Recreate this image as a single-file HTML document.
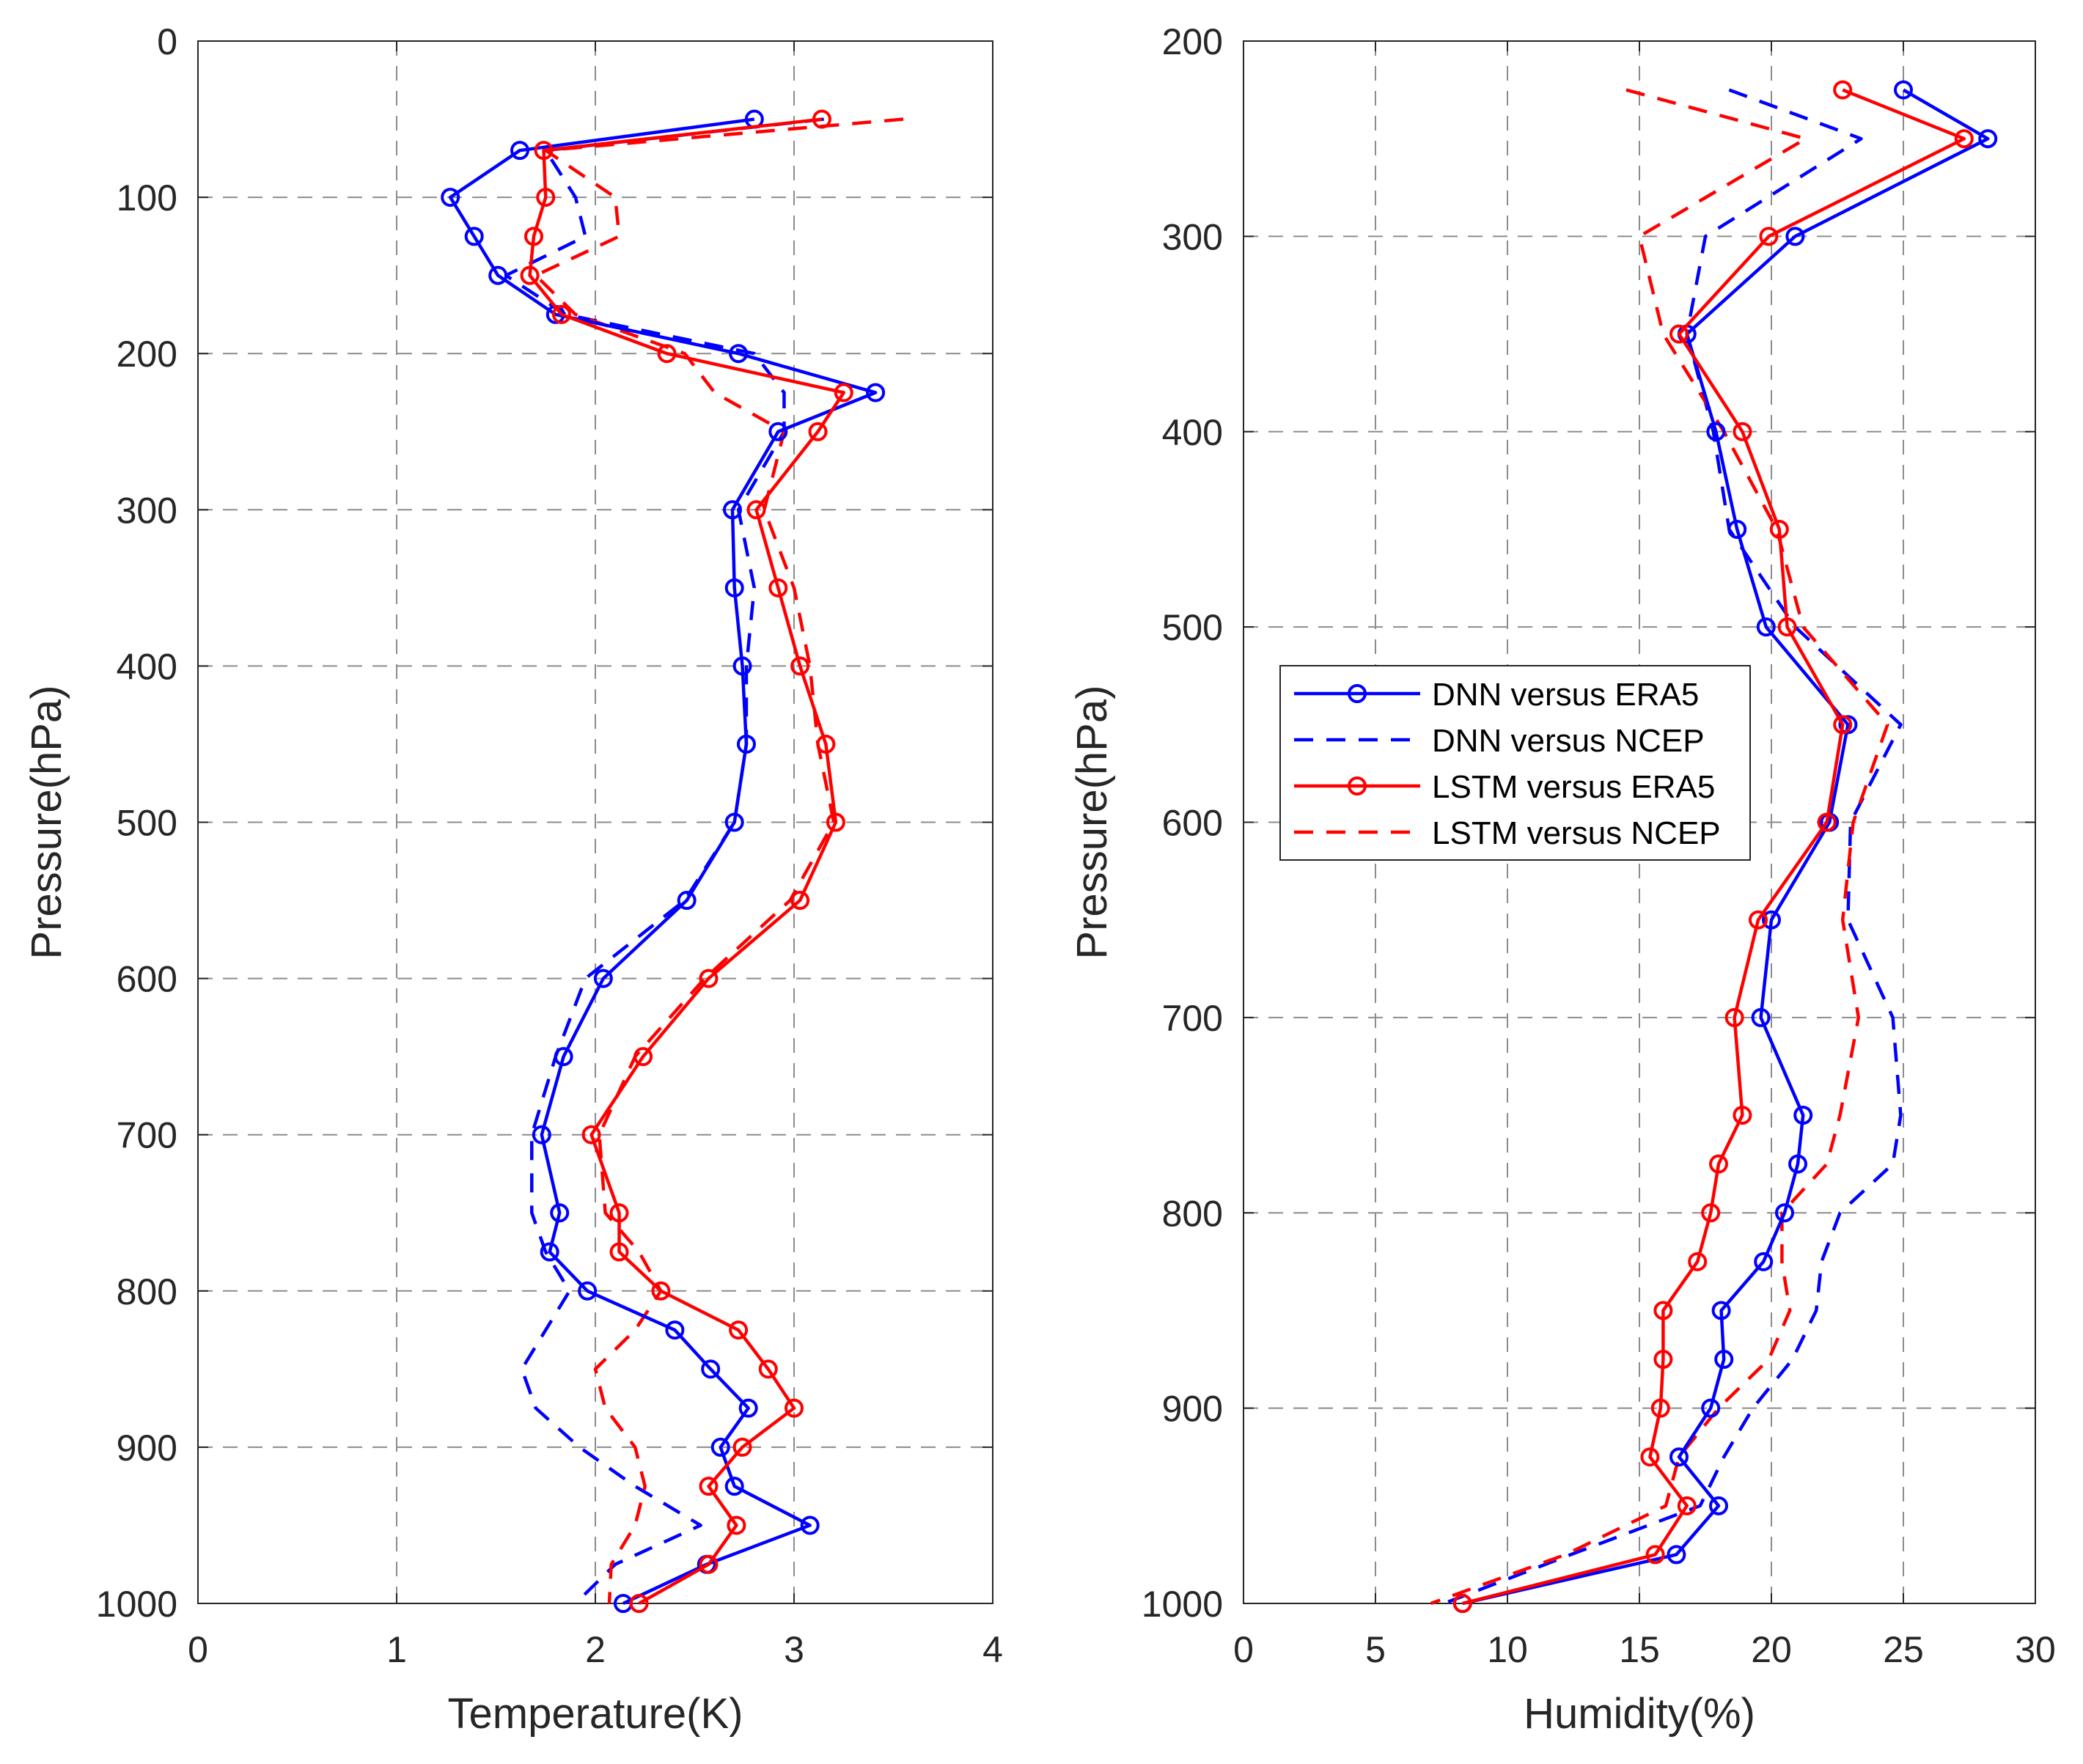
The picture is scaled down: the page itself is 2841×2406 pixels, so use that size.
<!DOCTYPE html>
<html><head><meta charset="utf-8"><style>
html,body{margin:0;padding:0;background:#fff;}
svg{display:block;font-family:"Liberation Sans",Arial,sans-serif;}
</style></head><body>
<svg id="chart" width="2841" height="2406" viewBox="0 0 2841 2406" xmlns="http://www.w3.org/2000/svg"></svg>
<script>
// ---------- Temperature panel data ----------
const tLevels = [50,70,100,125,150,175,200,225,250,300,350,400,450,500,550,600,650,700,750,775,800,825,850,875,900,925,950,975,1000];
const tDnnEra5 = [2.8,1.62,1.27,1.39,1.51,1.8,2.72,3.41,2.92,2.69,2.7,2.74,2.76,2.7,2.46,2.04,1.84,1.73,1.82,1.77,1.96,2.4,2.58,2.77,2.63,2.7,3.08,2.56,2.14];
const tDnnNcep = [3.15,1.75,1.9,1.95,1.55,1.85,2.8,2.95,2.95,2.72,2.8,2.76,2.76,2.7,2.45,1.95,1.8,1.68,1.68,1.75,1.87,1.75,1.63,1.7,1.92,2.2,2.53,2.1,1.9];
const tLstmEra5 = [3.14,1.74,1.75,1.69,1.67,1.83,2.36,3.25,3.12,2.81,2.92,3.03,3.16,3.21,3.03,2.57,2.24,1.98,2.12,2.12,2.33,2.72,2.87,3.0,2.74,2.57,2.71,2.57,2.22];
const tLstmNcep = [3.55,1.75,2.1,2.12,1.7,1.9,2.45,2.6,2.95,2.85,3.0,3.08,3.12,3.2,2.98,2.55,2.2,2.02,2.05,2.22,2.33,2.2,2.0,2.05,2.2,2.25,2.2,2.08,2.07];
const tXTicks = [0,1,2,3,4];
const tYTicks = [0,100,200,300,400,500,600,700,800,900,1000];
// ---------- Humidity panel data ----------
const hLevels = [225,250,300,350,400,450,500,550,600,650,700,750,775,800,825,850,875,900,925,950,975,1000];
const hDnnEra5 = [25.0,28.2,20.9,16.8,17.9,18.7,19.8,22.9,22.2,20.0,19.6,21.2,21.0,20.5,19.7,18.1,18.2,17.7,16.5,18.0,16.4,8.3];
const hDnnNcep = [18.4,23.4,17.5,16.8,17.8,18.4,20.9,24.9,23.0,22.9,24.6,24.9,24.6,22.6,21.9,21.7,20.8,19.3,18.2,17.3,12.4,7.6];
const hLstmEra5 = [22.7,27.3,19.9,16.5,18.9,20.3,20.6,22.7,22.1,19.5,18.6,18.9,18.0,17.7,17.2,15.9,15.9,15.8,15.4,16.8,15.6,8.3];
const hLstmNcep = [14.5,21.3,15.0,15.9,18.2,20.2,21.2,24.4,23.1,22.7,23.3,22.6,22.1,20.4,20.4,20.7,19.9,18.0,16.5,16.0,12.2,7.1];
const hXTicks = [0,5,10,15,20,25,30];
const hYTicks = [200,300,400,500,600,700,800,900,1000];
const legendLabels = ["DNN versus ERA5","DNN versus NCEP","LSTM versus ERA5","LSTM versus NCEP"];

const NS = "http://www.w3.org/2000/svg";
const svg = document.getElementById("chart");
function mk(tag, attrs, parent){
  const e = document.createElementNS(NS, tag);
  for (const k in attrs) e.setAttribute(k, attrs[k]);
  (parent||svg).appendChild(e);
  return e;
}

function panel(cfg){
  const {left,right,top,bottom,xmin,xmax,ymin,ymax,xTicks,yTicks,xTitle,prefix} = cfg;
  const sx = v => left + (v - xmin) / (xmax - xmin) * (right - left);
  const sy = v => top + (v - ymin) / (ymax - ymin) * (bottom - top);
  const g = mk("g", {});
  
  
  mk("rect", {x:left,y:top,width:right-left,height:bottom-top,fill:"#fff"}, g);
  xTicks.forEach(t => {
    if (t===xmin||t===xmax) return;
    const l = mk("line",{x1:sx(t),x2:sx(t),y1:top,y2:bottom,stroke:"#8c8c8c","stroke-width":2,"stroke-dasharray":"20 14"},g);
    
    
  });
  yTicks.forEach(t => {
    if (t===ymin||t===ymax) return;
    const l = mk("line",{x1:left,x2:right,y1:sy(t),y2:sy(t),stroke:"#8c8c8c","stroke-width":2,"stroke-dasharray":"20 14"},g);
    
    
  });
  xTicks.forEach(t => {
    mk("line",{x1:sx(t),x2:sx(t),y1:bottom,y2:bottom-14,stroke:"#262626","stroke-width":2},g);
    mk("line",{x1:sx(t),x2:sx(t),y1:top,y2:top+14,stroke:"#262626","stroke-width":2},g);
    const tx = mk("text",{x:sx(t),y:bottom+80,"text-anchor":"middle","font-size":50,fill:"#262626"},g);
    tx.textContent = t;
    
    
  });
  yTicks.forEach(t => {
    mk("line",{x1:left,x2:left+14,y1:sy(t),y2:sy(t),stroke:"#262626","stroke-width":2},g);
    mk("line",{x1:right,x2:right-14,y1:sy(t),y2:sy(t),stroke:"#262626","stroke-width":2},g);
    const ty = mk("text",{x:left-28,y:sy(t)+18,"text-anchor":"end","font-size":50,fill:"#262626"},g);
    ty.textContent = t;
    
    
  });
  mk("rect",{x:left,y:top,width:right-left,height:bottom-top,fill:"none",stroke:"#262626","stroke-width":2},g);
  const xt = mk("text",{x:(left+right)/2,y:bottom+170,"text-anchor":"middle","font-size":58,fill:"#262626"},g);
  xt.textContent = xTitle;
  
  
  const cx = left-187, cy=(top+bottom)/2;
  const yt = mk("text",{x:cx,y:cy,"text-anchor":"middle","font-size":58,fill:"#262626",transform:`rotate(-90 ${cx} ${cy})`},g);
  yt.textContent = "Pressure(hPa)";
  
  
  return {sx,sy,g};
}

function series(p, levels, vals, color, dashed, markers, name){
  const pts = vals.map((v,i)=>p.sx(v)+","+p.sy(levels[i])).join(" ");
  const pl = mk("polyline",{points:pts,fill:"none",stroke:color,"stroke-width":4.5,"stroke-linejoin":"round","stroke-dasharray":dashed?"26 18":"none"},p.g);
  
  
  if (markers) vals.forEach((v,i)=>{
    const c = mk("circle",{cx:p.sx(v),cy:p.sy(levels[i]),r:11,fill:"none",stroke:color,"stroke-width":4},p.g);
    
    
  });
}

const pT = panel({left:270,right:1354,top:56,bottom:2187,xmin:0,xmax:4,ymin:0,ymax:1000,xTicks:tXTicks,yTicks:tYTicks,xTitle:"Temperature(K)",prefix:"temperature"});
series(pT,tLevels,tDnnNcep,"#0000ff",true,false,"dnn-ncep-temperature-line");
series(pT,tLevels,tLstmNcep,"#ff0000",true,false,"lstm-ncep-temperature-line");
series(pT,tLevels,tDnnEra5,"#0000ff",false,true,"dnn-era5-temperature-line");
series(pT,tLevels,tLstmEra5,"#ff0000",false,true,"lstm-era5-temperature-line");

const pH = panel({left:1696,right:2776,top:56,bottom:2187,xmin:0,xmax:30,ymin:200,ymax:1000,xTicks:hXTicks,yTicks:hYTicks,xTitle:"Humidity(%)",prefix:"humidity"});
series(pH,hLevels,hDnnNcep,"#0000ff",true,false,"dnn-ncep-humidity-line");
series(pH,hLevels,hLstmNcep,"#ff0000",true,false,"lstm-ncep-humidity-line");
series(pH,hLevels,hDnnEra5,"#0000ff",false,true,"dnn-era5-humidity-line");
series(pH,hLevels,hLstmEra5,"#ff0000",false,true,"lstm-era5-humidity-line");

const lg = mk("g",{});


mk("rect",{x:1746,y:908,width:641,height:265,fill:"#fff",stroke:"#262626","stroke-width":2},lg);
const lColors = ["#0000ff","#0000ff","#ff0000","#ff0000"];
const lDash = [false,true,false,true];
legendLabels.forEach((lab,i)=>{
  const y = 946 + i*63;
  const ln = mk("line",{x1:1765,x2:1937,y1:y,y2:y,stroke:lColors[i],"stroke-width":4.5,"stroke-dasharray":lDash[i]?"26 18":"none"},lg);
  
  
  if(!lDash[i]) mk("circle",{cx:1851,cy:y,r:11,fill:"none",stroke:lColors[i],"stroke-width":4},lg);
  const t = mk("text",{x:1953,y:y+16,"font-size":44,fill:"#000"},lg);
  t.textContent = lab;
  
  
});
</script>
</body></html>
